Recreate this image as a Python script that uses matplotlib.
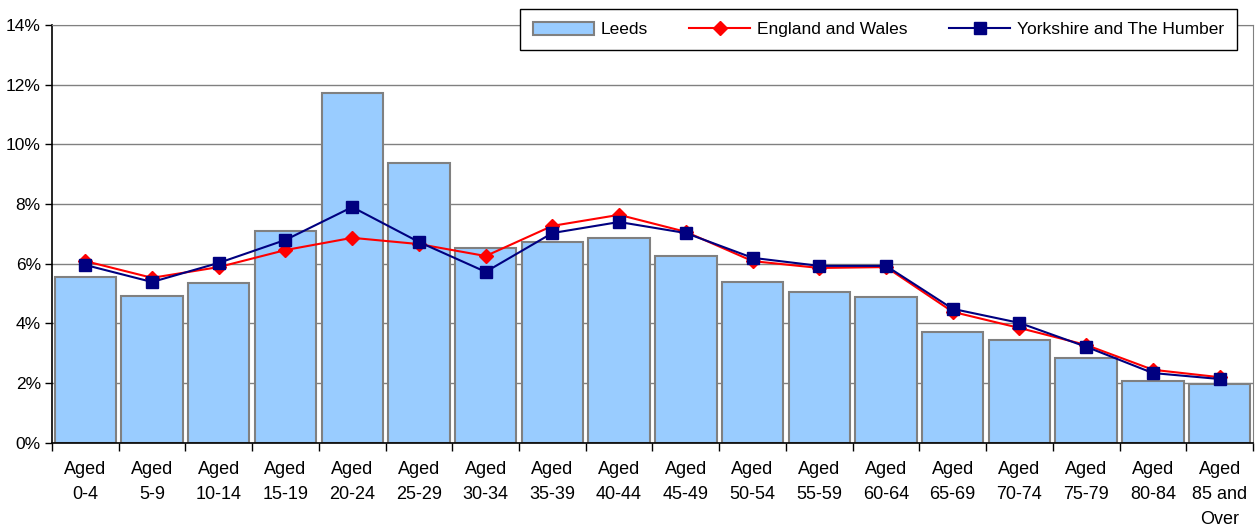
import matplotlib.pyplot as plt
import numpy as np
from matplotlib.ticker import FuncFormatter, FixedLocator

plt.rcParams['font.family'] = ['Liberation Sans', 'DejaVu Sans']

age_groups = ['0-4', '5-9', '10-14', '15-19', '20-24', '25-29', '30-34', '35-39',
              '40-44', '45-49', '50-54', '55-59', '60-64', '65-69', '70-74',
              '75-79', '80-84', '85 and\nOver']
leeds = [5.56, 4.92, 5.36, 7.10, 11.72, 9.38, 6.54, 6.73, 6.87, 6.26,
         5.39, 5.06, 4.89, 3.72, 3.45, 2.85, 2.08, 1.98]
england_wales = [6.09, 5.53, 5.89, 6.46, 6.87, 6.66, 6.26, 7.27, 7.64, 7.07,
                 6.09, 5.86, 5.89, 4.39, 3.85, 3.28, 2.45, 2.20]
yorkshire = [5.96, 5.39, 6.03, 6.80, 7.90, 6.73, 5.73, 7.03, 7.40, 7.03,
             6.20, 5.93, 5.93, 4.49, 4.02, 3.22, 2.34, 2.14]

fig = plt.figure(figsize=(12.55, 5.26), dpi=100)
ax = fig.add_axes([0.0414, 0.158, 0.957, 0.7945])

x = np.arange(len(age_groups))
bars = ax.bar(x, leeds, width=0.92, color='#99CCFF', edgecolor='#808080',
              linewidth=1.5, label='Leeds', zorder=2)
l1, = ax.plot(x, england_wales, color='red', marker='D', markersize=7,
              linewidth=1.5, label='England and Wales', zorder=3)
l2, = ax.plot(x, yorkshire, color='#000080', marker='s', markersize=8,
              linewidth=1.5, label='Yorkshire and The Humber', zorder=4)

ax.set_xlim(-0.5, len(age_groups) - 0.5)
ax.set_ylim(0, 14)
ax.set_yticks(np.arange(0, 15, 2))
ax.yaxis.set_major_formatter(FuncFormatter(lambda v, p: '%d%%' % v))
ax.yaxis.grid(True, color='#808080', linewidth=1)
ax.set_axisbelow(True)

ax.xaxis.set_major_locator(FixedLocator(np.arange(-0.5, len(age_groups), 1)))
ax.set_xticklabels([])
ax.set_xticks(x, minor=True)
ax.set_xticklabels(['Aged\n' + a for a in age_groups], minor=True,
                   fontsize=13, linespacing=1.6, va='top')
ax.tick_params(axis='x', which='minor', length=0, pad=13)
ax.tick_params(axis='x', which='major', length=6, width=1)
ax.tick_params(axis='y', length=5, width=1, labelsize=12.5, pad=3)

for s in ['top', 'right']:
    ax.spines[s].set_color('#808080')
for s in ['left', 'bottom']:
    ax.spines[s].set_color('black')
    ax.spines[s].set_linewidth(1.2)

leg = ax.legend([bars, l1, l2], ['Leeds', 'England and Wales', 'Yorkshire and The Humber'],
                loc='upper right', bbox_to_anchor=(0.994, 1.06), ncol=3,
                fontsize=12.5, frameon=True, fancybox=False,
                handlelength=3.5, handleheight=0.8, columnspacing=2.4,
                borderpad=0.75, handletextpad=0.4)
leg.get_frame().set_edgecolor('black')
leg.get_frame().set_linewidth(1)
leg.get_frame().set_alpha(1)

fig.savefig('out.png', dpi=100)
